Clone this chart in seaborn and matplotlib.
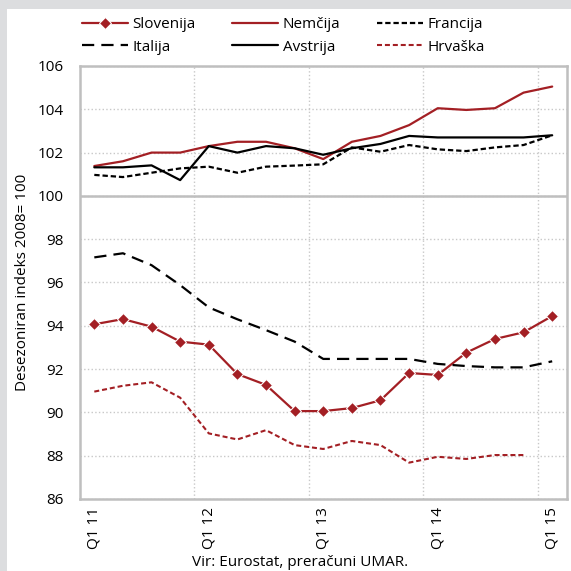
import numpy as np
import pandas as pd
import seaborn as sns
import matplotlib.pyplot as plt
from matplotlib.patches import Rectangle

# quarters Q1 11 .. Q1 15
quarters = ['Q1 11', 'Q2 11', 'Q3 11', 'Q4 11',
            'Q1 12', 'Q2 12', 'Q3 12', 'Q4 12',
            'Q1 13', 'Q2 13', 'Q3 13', 'Q4 13',
            'Q1 14', 'Q2 14', 'Q3 14', 'Q4 14',
            'Q1 15']
tick_labels = ['Q1 11', 'Q1 12', 'Q1 13', 'Q1 14', 'Q1 15']

slovenija = [94.07, 94.31, 93.96, 93.27, 93.13, 91.77, 91.27, 90.06, 90.06,
             90.20, 90.56, 91.82, 91.73, 92.76, 93.39, 93.70, 94.45]
nemcija = [101.38, 101.60, 102.00, 102.00, 102.30, 102.50, 102.50, 102.20, 101.70,
           102.50, 102.77, 103.27, 104.05, 103.97, 104.05, 104.77, 105.05]
francija = [100.97, 100.87, 101.07, 101.27, 101.35, 101.07, 101.35, 101.40, 101.46,
            102.24, 102.04, 102.35, 102.15, 102.07, 102.24, 102.35, 102.80]
italija = [97.16, 97.35, 96.80, 95.88, 94.85, 94.30, 93.80, 93.27, 92.47,
           92.47, 92.47, 92.47, 92.24, 92.14, 92.08, 92.08, 92.36]
avstrija = [101.32, 101.32, 101.41, 100.73, 102.30, 102.00, 102.30, 102.20, 101.90,
            102.20, 102.40, 102.77, 102.70, 102.70, 102.70, 102.70, 102.80]
hrvaska = [90.96, 91.23, 91.39, 90.68, 89.03, 88.75, 89.18, 88.49, 88.31,
           88.68, 88.49, 87.68, 87.95, 87.85, 88.03, 88.03]

red = '#a31f24'
grey_bg = '#dcdddf'
frame = '#bfbfbf'

sns.set_style('white')
plt.rcParams['font.family'] = ['Open Sans', 'DejaVu Sans']
plt.rcParams['text.color'] = 'black'
plt.rcParams['axes.labelcolor'] = 'black'
plt.rcParams['xtick.color'] = 'black'
plt.rcParams['ytick.color'] = 'black'

fig = plt.figure(figsize=(5.71, 5.71), dpi=100)
fig.patch.set_facecolor(grey_bg)
# white panel behind everything
fig.patches.append(Rectangle((7 / 571, 0), 1, 1 - 9 / 571, transform=fig.transFigure,
                             facecolor='white', edgecolor='none', zorder=-10))

ax = fig.add_axes([80 / 571, 1 - 499 / 571, 486.5 / 571, 433 / 571])
ax.set_facecolor('white')

x = np.arange(len(quarters))
series = [
    ('Slovenija', slovenija, dict(color=red, lw=1.6, marker='D', markersize=6, linestyle='-')),
    ('Italija', italija, dict(color='black', lw=1.6, linestyle=(0, (5.5, 3.2)))),
    ('Nemčija', nemcija, dict(color=red, lw=1.6, linestyle='-')),
    ('Avstrija', avstrija, dict(color='black', lw=1.6, linestyle='-')),
    ('Francija', francija, dict(color='black', lw=1.6, linestyle=(0, (2.4, 1.3)))),
    ('Hrvaška', hrvaska, dict(color=red, lw=1.5, linestyle=(0, (2.4, 1.4)))),
]
for name, vals, kw in series:
    sns.lineplot(x=x[:len(vals)], y=vals, ax=ax, label=name, zorder=3, **kw)

ax.set_xlim(-0.5, len(quarters) - 0.5)
ax.set_ylim(86, 106)
ax.set_yticks(np.arange(86, 107, 2))
ax.set_xticks(np.arange(0, len(quarters), 4))
ax.set_xticklabels(tick_labels, rotation=90)
ax.set_xticks(np.arange(3.5, len(quarters), 4), minor=True)
ax.tick_params(axis='both', which='both', length=0, labelsize=11, labelcolor='black')
ax.tick_params(axis='y', pad=12)
ax.tick_params(axis='x', pad=6)

ax.grid(False)
ax.grid(axis='y', which='major', color='#c8c8c8', linestyle=':', lw=1)
ax.grid(axis='x', which='minor', color='#c8c8c8', linestyle=':', lw=1)
ax.axhline(100, color=frame, lw=1.8, zorder=2)
for s in ax.spines.values():
    s.set_color(frame)
    s.set_linewidth(1.8)

ax.set_xlabel('')
ax.set_ylabel('Desezoniran indeks 2008= 100', fontsize=11, labelpad=5)

handles, labels = ax.get_legend_handles_labels()
ax.get_legend().remove()
fig.legend(handles, labels, ncol=3, loc='upper left', bbox_to_anchor=(76 / 571, 1 - 11 / 571),
           frameon=False, fontsize=11, handlelength=3.0, handletextpad=0.3,
           columnspacing=2.4, labelspacing=0.5, borderaxespad=0)

fig.text(0.525, 1 - 563 / 571, 'Vir: Eurostat, preračuni UMAR.', ha='center', va='center',
         fontsize=11)

fig.savefig('out.png', dpi=100, facecolor=fig.get_facecolor())
